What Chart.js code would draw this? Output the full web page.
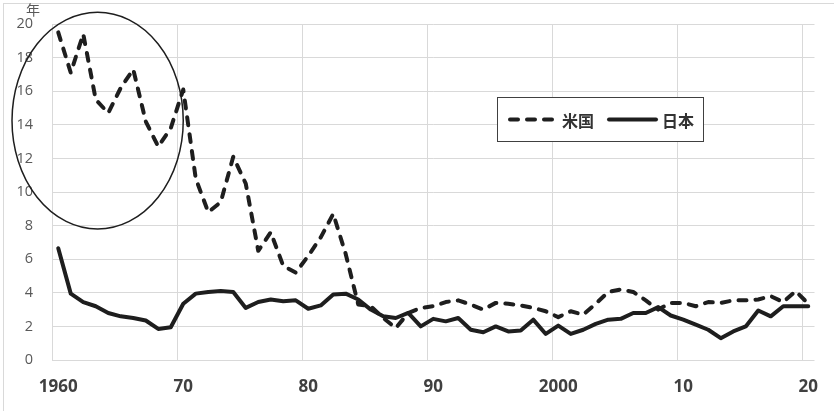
<!DOCTYPE html>
<html>
<head>
<meta charset="utf-8">
<script src="https://cdn.jsdelivr.net/npm/chart.js@4/dist/chart.umd.min.js"></script>
<style>
  html, body { margin: 0; padding: 0; background: #ffffff; }
  #wrap { position: relative; width: 834px; height: 411px; }
</style>
</head>
<body>
<div id="wrap"><canvas id="chart" width="834" height="411"></canvas></div>
<script>
// Years 1960–2020
const years = [];
for (let y = 1960; y <= 2020; y++) years.push(y);

// Decade tick labels on the category axis
const decadeYears  = [1960, 1970, 1980, 1990, 2000, 2010, 2020];
const decadeLabels = ['1960', '70', '80', '90', '2000', '10', '20'];

// Y axis
const yUnit = '年';
const yMin = 0, yMax = 20, yStep = 2;

// 米国 (dashed)
const usValues = [
  19.5, 17.1, 19.4, 15.5, 14.7, 16.2, 17.3, 14.2, 12.7, 13.8,
  16.1, 10.8,  8.8,  9.4, 12.1, 10.5,  6.5,  7.6,  5.6,  5.2,
   6.2,  7.3,  8.7,  6.3,  3.3,  3.2,  2.5,  1.9,  2.8,  3.1,
   3.2,  3.45, 3.55, 3.3,  3.0,  3.4,  3.35, 3.25, 3.1,  2.9,
   2.55, 2.9,  2.7,  3.35, 4.05, 4.2,  4.05, 3.55, 3.0,  3.4,
   3.4,  3.2,  3.45, 3.4,  3.55, 3.55, 3.6,  3.8,  3.45, 4.1,
   3.35
];

// 日本 (solid)
const jpValues = [
  6.65, 3.95, 3.45, 3.2,  2.8,  2.6,  2.5,  2.35, 1.85, 1.95,
  3.35, 3.95, 4.05, 4.1,  4.05, 3.1,  3.45, 3.6,  3.5,  3.55,
  3.05, 3.25, 3.9,  3.95, 3.6,  3.0,  2.6,  2.5,  2.8,  2.0,
  2.45, 2.3,  2.5,  1.8,  1.65, 2.0,  1.7,  1.75, 2.4,  1.55,
  2.05, 1.55, 1.8,  2.15, 2.4,  2.45, 2.8,  2.8,  3.15, 2.65,
  2.4,  2.1,  1.8,  1.3,  1.7,  2.0,  2.95, 2.6,  3.2,  3.2,
  3.2
];

const seriesNames = ['米国', '日本'];

// Highlight ellipse around the early high-value period, in data units
const highlight = { xFrom: -3.7, xTo: 10.0, yFrom: 7.8, yTo: 20.7 };

const ink = '#1e1e1e';
const gridGray = '#d9d9d9';
const tickGray = '#595959';
const labelGray = '#404040';
const usDash = [8, 9];

// Outer frame, unit label, highlight ellipse and the in-plot legend
const decorations = {
  id: 'decorations',
  afterDraw(chart) {
    const { ctx, scales } = chart;
    const xs = scales.x, ys = scales.y;
    ctx.save();

    // chart frame
    ctx.strokeStyle = gridGray;
    ctx.lineWidth = 1;
    ctx.strokeRect(3.5, 3.5, 1000, 1000);

    // unit label above the value axis
    ctx.fillStyle = tickGray;
    ctx.font = '14px "Noto Sans CJK JP"';
    ctx.textAlign = 'center';
    ctx.textBaseline = 'middle';
    ctx.fillText(yUnit, 33, 10);

    // ellipse
    const x0 = xs.getPixelForValue(highlight.xFrom);
    const x1 = xs.getPixelForValue(highlight.xTo);
    const y0 = ys.getPixelForValue(highlight.yTo);
    const y1 = ys.getPixelForValue(highlight.yFrom);
    ctx.beginPath();
    ctx.ellipse((x0 + x1) / 2, (y0 + y1) / 2, (x1 - x0) / 2, (y1 - y0) / 2, 0, 0, Math.PI * 2);
    ctx.strokeStyle = ink;
    ctx.lineWidth = 1.5;
    ctx.stroke();

    // legend box
    const bx = 497.5, by = 97.5, bw = 206, bh = 44;
    ctx.fillStyle = '#ffffff';
    ctx.fillRect(bx, by, bw, bh);
    ctx.strokeStyle = '#404040';
    ctx.lineWidth = 1;
    ctx.strokeRect(bx, by, bw, bh);

    const cy = by + bh / 2;
    const ds = chart.data.datasets;
    ctx.font = 'bold 16px "Noto Sans CJK JP"';
    ctx.textAlign = 'left';
    ctx.textBaseline = 'middle';

    const samples = [
      { from: 510, to: 557, text: 562 },
      { from: 609, to: 656, text: 662 }
    ];
    samples.forEach((s, i) => {
      const d = ds[i];
      ctx.beginPath();
      ctx.setLineDash(d.borderDash || []);
      ctx.lineCap = d.borderCapStyle || 'butt';
      ctx.strokeStyle = d.borderColor;
      ctx.lineWidth = d.borderWidth;
      ctx.moveTo(s.from, cy);
      ctx.lineTo(s.to, cy);
      ctx.stroke();
      ctx.setLineDash([]);
      ctx.fillStyle = '#333333';
      ctx.fillText(d.label, s.text, cy + 1);
    });

    ctx.restore();
  }
};

new Chart(document.getElementById('chart'), {
  type: 'line',
  data: {
    labels: years,
    datasets: [
      {
        label: seriesNames[0],
        data: usValues,
        borderColor: ink,
        borderWidth: 4,
        borderDash: usDash,
        borderCapStyle: 'round',
        borderJoinStyle: 'round',
        pointRadius: 0,
        tension: 0,
        fill: false
      },
      {
        label: seriesNames[1],
        data: jpValues,
        borderColor: ink,
        borderWidth: 4,
        borderCapStyle: 'round',
        borderJoinStyle: 'round',
        pointRadius: 0,
        tension: 0,
        fill: false
      }
    ]
  },
  options: {
    responsive: false,
    animation: false,
    devicePixelRatio: 1,
    layout: { padding: { top: 24, right: 19.5, bottom: 0, left: 0 } },
    plugins: {
      legend: { display: false },
      tooltip: { enabled: false }
    },
    scales: {
      x: {
        type: 'category',
        offset: true,
        afterFit(scale) {
          scale.height = 51;
          scale.paddingLeft = 0;
          scale.paddingRight = 0;
        },
        border: { display: false },
        grid: {
          offset: true,
          drawTicks: false,
          lineWidth: 1,
          color(ctx) {
            const y = years[ctx.index];
            return decadeYears.includes(y) ? gridGray : 'rgba(0,0,0,0)';
          }
        },
        ticks: {
          autoSkip: false,
          maxRotation: 0,
          padding: 17,
          color: labelGray,
          font: { family: '"Open Sans"', size: 17, weight: 'bold' },
          callback(value, index) {
            const k = decadeYears.indexOf(years[index]);
            return k >= 0 ? decadeLabels[k] : '';
          }
        }
      },
      y: {
        min: yMin,
        max: yMax,
        afterFit(scale) {
          scale.width = 52;
          scale.paddingTop = 0;
          scale.paddingBottom = 0;
        },
        border: { display: false },
        grid: { color: gridGray, lineWidth: 1, drawTicks: false },
        ticks: {
          stepSize: yStep,
          padding: 19,
          color: tickGray,
          font: { family: '"Open Sans"', size: 14.5 }
        }
      }
    }
  },
  plugins: [decorations]
});
</script>
</body>
</html>
